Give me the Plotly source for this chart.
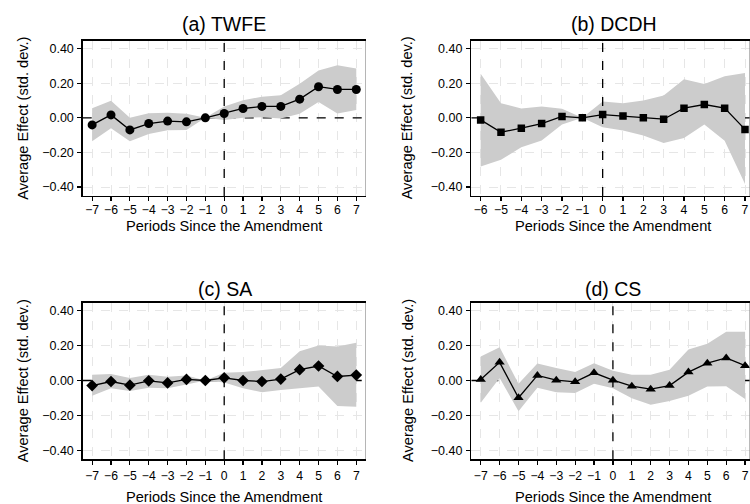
import plotly.graph_objects as go

# ---------------- data ----------------
periods_a = [-7, -6, -5, -4, -3, -2, -1, 0, 1, 2, 3, 4, 5, 6, 7]
twfe_est = [-0.041, 0.017, -0.070, -0.033, -0.019, -0.023, 0.0, 0.025, 0.054, 0.066, 0.066, 0.108, 0.180, 0.164, 0.164]
twfe_lo = [-0.135, -0.060, -0.135, -0.093, -0.072, -0.070, 0.0, -0.012, 0.0, 0.004, -0.004, 0.023, 0.091, 0.025, 0.045]
twfe_hi = [0.056, 0.099, 0.0, 0.027, 0.029, 0.023, 0.0, 0.066, 0.102, 0.122, 0.131, 0.197, 0.274, 0.304, 0.285]

periods_b = [-6, -5, -4, -3, -2, -1, 0, 1, 2, 3, 4, 5, 6, 7]
dcdh_est = [-0.012, -0.083, -0.060, -0.033, 0.008, 0.0, 0.019, 0.010, 0.0, -0.008, 0.056, 0.077, 0.056, -0.067]
dcdh_lo = [-0.282, -0.243, -0.170, -0.131, -0.039, 0.0, -0.054, -0.073, -0.102, -0.145, -0.116, -0.039, -0.133, -0.383]
dcdh_hi = [0.255, 0.085, 0.054, 0.066, 0.052, 0.0, 0.095, 0.085, 0.100, 0.129, 0.223, 0.195, 0.240, 0.259]

periods_c = [-7, -6, -5, -4, -3, -2, -1, 0, 1, 2, 3, 4, 5, 6, 7]
sa_est = [-0.029, -0.006, -0.027, -0.002, -0.014, 0.006, 0.0, 0.015, 0.0, -0.006, 0.008, 0.062, 0.083, 0.023, 0.031]
sa_lo = [-0.087, -0.044, -0.060, -0.041, -0.044, -0.023, 0.0, -0.012, -0.044, -0.068, -0.054, -0.044, -0.035, -0.147, -0.151]
sa_hi = [0.033, 0.037, 0.014, 0.033, 0.021, 0.029, 0.0, 0.044, 0.048, 0.060, 0.072, 0.168, 0.201, 0.195, 0.216]

periods_d = [-7, -6, -5, -4, -3, -2, -1, 0, 1, 2, 3, 4, 5, 6, 7]
cs_est = [0.006, 0.104, -0.099, 0.029, 0.002, -0.008, 0.044, 0.002, -0.033, -0.050, -0.029, 0.048, 0.099, 0.129, 0.085]
cs_lo = [-0.128, 0.014, -0.176, -0.041, -0.068, -0.072, -0.019, -0.044, -0.102, -0.139, -0.118, -0.087, -0.035, -0.033, -0.106]
cs_hi = [0.137, 0.191, -0.019, 0.097, 0.072, 0.048, 0.099, 0.056, 0.033, 0.033, 0.062, 0.178, 0.211, 0.280, 0.280]

titles = ["(a) TWFE", "(b) DCDH", "(c) SA", "(d) CS"]
y_ticks = [-0.4, -0.2, 0.0, 0.2, 0.4]
x_title = "Periods Since the Amendment"
y_title = "Average Effect (std. dev.)"

# ---------------- figure ----------------
W, H = 750, 504
FONT = "Liberation Sans, Arial, Helvetica, sans-serif"
BAND = "#cccccc"
GRID = "#e6e6e6"

panels = [
    dict(x=periods_a, est=twfe_est, lo=twfe_lo, hi=twfe_hi, symbol="circle", size=9,
         xdom=(82.7, 365.7), ydom=(40.7, 196.0), xr=(-7.5, 7.5), standoff=-2,
         title_x=224.2, title_y=24.0, xt_x=224.2, xt_y=226.5, yt_x=23.3),
    dict(x=periods_b, est=dcdh_est, lo=dcdh_lo, hi=dcdh_hi, symbol="square", size=7.5,
         xdom=(471.3, 750.0), ydom=(40.7, 196.0), xr=(-6.46, 7.246), standoff=-2,
         title_x=613.5, title_y=24.0, xt_x=613.3, xt_y=226.5, yt_x=407.0),
    dict(x=periods_c, est=sa_est, lo=sa_lo, hi=sa_hi, symbol="diamond", size=9,
         xdom=(82.7, 365.7), ydom=(302.7, 459.3), xr=(-7.5, 7.5), standoff=1,
         title_x=224.5, title_y=288.7, xt_x=224.2, xt_y=496.5, yt_x=23.3),
    dict(x=periods_d, est=cs_est, lo=cs_lo, hi=cs_hi, symbol="triangle-up", size=9,
         xdom=(471.3, 750.0), ydom=(302.7, 459.3), xr=(-7.5, 7.26), standoff=1,
         title_x=612.5, title_y=288.7, xt_x=613.3, xt_y=496.5, yt_x=408.0),
]

fig = go.Figure()
annotations = []
shapes = []
layout = {}

for i, p in enumerate(panels, start=1):
    sfx = "" if i == 1 else str(i)
    xa, ya = "x" + sfx, "y" + sfx
    # confidence band
    fig.add_trace(go.Scatter(
        x=list(p["x"]) + list(p["x"])[::-1],
        y=list(p["hi"]) + list(p["lo"])[::-1],
        fill="toself", fillcolor=BAND, line=dict(width=0, color=BAND),
        mode="lines", hoverinfo="skip", showlegend=False, xaxis=xa, yaxis=ya))
    # estimates
    fig.add_trace(go.Scatter(
        x=p["x"], y=p["est"], mode="lines+markers",
        line=dict(color="black", width=1.3),
        marker=dict(symbol=p["symbol"], size=p["size"], color="black", line=dict(width=0)),
        showlegend=False, xaxis=xa, yaxis=ya))

    x0, x1 = p["xdom"]
    yt, yb = p["ydom"]
    layout["xaxis" + sfx] = dict(
        domain=[x0 / W, x1 / W], range=list(p["xr"]), anchor=ya,
        tickmode="array", tickvals=p["x"], ticks="outside", ticklen=4, tickwidth=1.2,
        tickcolor="black", showline=True, linecolor="black", linewidth=1.4, mirror=True,
        showgrid=True, gridcolor=GRID, griddash="dash", gridwidth=1, zeroline=False,
        tickfont=dict(family=FONT, size=12.2, color="black"),
        ticklabelstandoff=p["standoff"], fixedrange=True)
    layout["yaxis" + sfx] = dict(
        domain=[1 - yb / H, 1 - yt / H], range=[-0.452, 0.446], anchor=xa,
        tickmode="array", tickvals=y_ticks, tickformat=".2f", ticks="outside", ticklen=4,
        tickwidth=1.2, tickcolor="black", showline=True, linecolor="black", linewidth=1.4,
        mirror=False, showgrid=True, gridcolor=GRID, griddash="dash", gridwidth=1,
        zeroline=False, tickfont=dict(family=FONT, size=12.5, color="black"),
        ticklabelstandoff=1, fixedrange=True)

    # horizontal zero reference line (under the band)
    shapes.append(dict(type="line", xref=xa, yref=ya, x0=p["xr"][0], x1=p["xr"][1], y0=0, y1=0,
                       line=dict(color="black", width=1.3, dash="dash"), layer="between"))
    # vertical reference line at 0 (above the band)
    shapes.append(dict(type="line", xref=xa, yref=ya, x0=0, x1=0, y0=-0.452, y1=0.446,
                       line=dict(color="black", width=1.3, dash="dash"), layer="above"))
    # right frame (grey)
    shapes.append(dict(type="line", xref=xa, yref=ya, x0=p["xr"][1], x1=p["xr"][1],
                       y0=-0.452, y1=0.446, line=dict(color="#8a8a8a", width=1.2), layer="above"))

    annotations.append(dict(text=titles[i - 1], xref="paper", yref="paper",
                            x=p["title_x"] / W, y=1 - p["title_y"] / H,
                            xanchor="center", yanchor="middle", showarrow=False,
                            font=dict(family=FONT, size=19.5, color="black")))
    annotations.append(dict(text=x_title, xref="paper", yref="paper",
                            x=p["xt_x"] / W, y=1 - p["xt_y"] / H,
                            xanchor="center", yanchor="middle", showarrow=False,
                            font=dict(family=FONT, size=14.6, color="black")))
    annotations.append(dict(text=y_title, xref="paper", yref="paper",
                            x=p["yt_x"] / W, y=1 - ((yt + yb) / 2) / H, textangle=-90,
                            xanchor="center", yanchor="middle", showarrow=False,
                            font=dict(family=FONT, size=14.6, color="black")))

fig.update_layout(
    width=W, height=H, margin=dict(l=0, r=0, t=0, b=0, autoexpand=False),
    paper_bgcolor="white", plot_bgcolor="white",
    font=dict(family=FONT, color="black"),
    annotations=annotations, shapes=shapes, showlegend=False,
    **layout)

fig.write_html("out.html", config={"displayModeBar": False, "staticPlot": True},
               post_script="document.body.style.margin='0';document.body.style.overflow='hidden';")
